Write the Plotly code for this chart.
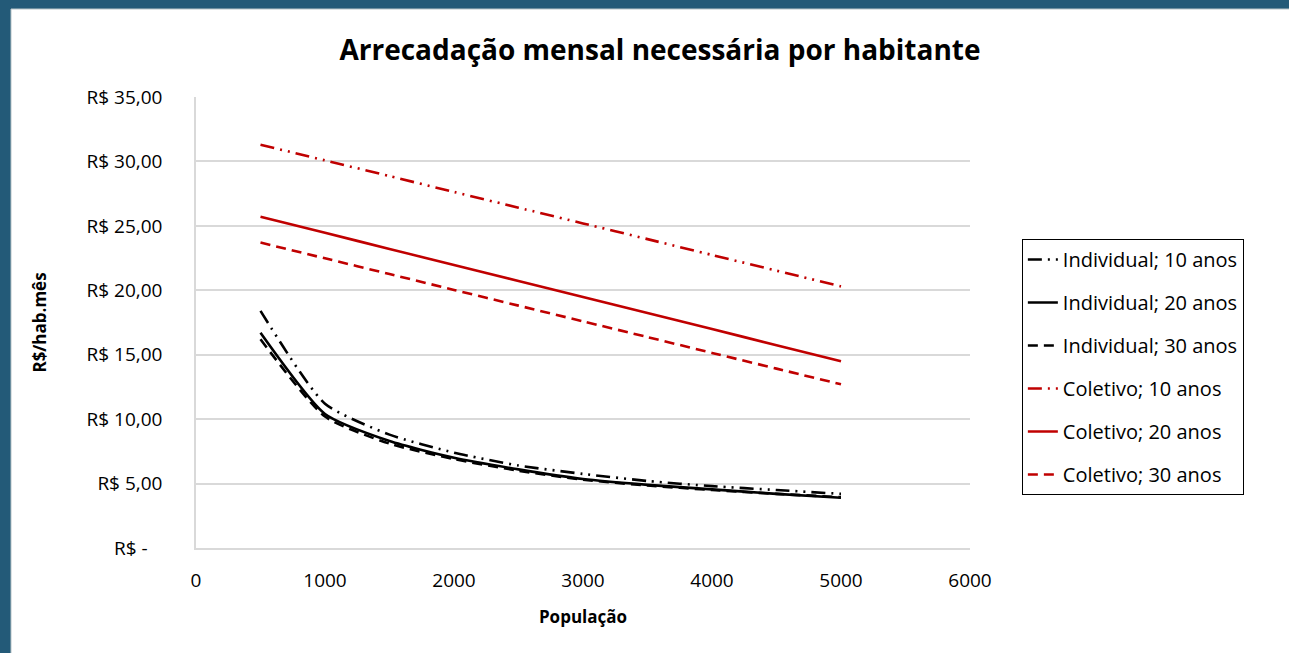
import plotly.graph_objects as go

populacao = [500, 1000, 1500, 2000, 2500, 3000, 3500, 4000, 4500, 5000]

ind_10 = [18.4, 11.2, 8.8, 7.4, 6.4, 5.75, 5.2, 4.8, 4.5, 4.2]
ind_20 = [16.7, 10.4, 8.3, 7.0, 6.1, 5.35, 4.9, 4.55, 4.2, 3.9]
ind_30 = [16.2, 10.2, 8.1, 6.9, 6.0, 5.3, 4.85, 4.5, 4.2, 3.95]
col_10 = [31.3, 30.08, 28.86, 27.63, 26.41, 25.19, 23.97, 22.74, 21.52, 20.3]
col_20 = [25.7, 24.46, 23.21, 21.97, 20.72, 19.48, 18.23, 16.99, 15.74, 14.5]
col_30 = [23.7, 22.48, 21.26, 20.03, 18.81, 17.59, 16.37, 15.14, 13.92, 12.7]

series_names = ["Individual; 10 anos", "Individual; 20 anos", "Individual; 30 anos",
                "Coletivo; 10 anos", "Coletivo; 20 anos", "Coletivo; 30 anos"]

y_tickvals = [0, 5, 10, 15, 20, 25, 30, 35]
y_ticktext = ["R$ -\u00a0\u00a0\u00a0", "R$ 5,00", "R$ 10,00", "R$ 15,00", "R$ 20,00",
              "R$ 25,00", "R$ 30,00", "R$ 35,00"]
x_tickvals = [0, 1000, 2000, 3000, 4000, 5000, 6000]

BLACK = "#000000"
RED = "#c00000"
ddot = "14px,6px,2px,6px,2px,6px"
dash = "10px,6px"

styles = [
    (ind_10, BLACK, ddot),
    (ind_20, BLACK, "solid"),
    (ind_30, BLACK, dash),
    (col_10, RED, ddot),
    (col_20, RED, "solid"),
    (col_30, RED, dash),
]

fig = go.Figure()
for i, (vals, color, d) in enumerate(styles):
    fig.add_trace(go.Scatter(
        x=populacao, y=vals, mode="lines", name=series_names[i],
        legendgroup=f"g{i}",
        line=dict(color=color, width=2.6, dash=d, shape="spline", smoothing=0.6),
    ))

FONT = "'Open Sans', Lato, sans-serif"

fig.update_layout(
    width=1289, height=653,
    margin=dict(l=196, r=319, t=97, b=105),
    paper_bgcolor="#235a78",
    plot_bgcolor="white",
    font=dict(family=FONT, size=19, color="#000000"),
    title=dict(text="<b>Arrecadação mensal necessária por habitante</b>",
               x=0.512, xanchor="center", y=0.923, yanchor="middle",
               font=dict(size=28, family=FONT, color="#000000")),
    showlegend=True,
    legend=dict(x=1.067, y=0.685, xanchor="left", yanchor="top",
                bordercolor="#000000", borderwidth=1, bgcolor="white",
                font=dict(size=20, family=FONT), tracegroupgap=14,
                itemwidth=30),
    shapes=[
        dict(type="rect", xref="paper", yref="paper",
             x0=(11 - 196) / 774, x1=2.0, y0=-1.0, y1=(548 - 9) / 451,
             fillcolor="white", line=dict(color="#b8c4c8", width=1), layer="below"),
    ],
)

fig.update_xaxes(
    range=[0, 6000], tickvals=x_tickvals, showgrid=False, zeroline=False,
    showline=True, linecolor="#d9d9d9", linewidth=1.5, ticks="",
    ticklabelstandoff=14,
    title=dict(text="<b>População</b>", font=dict(size=17, family=FONT), standoff=20),
)
fig.update_yaxes(
    range=[0, 35], tickvals=y_tickvals, ticktext=y_ticktext,
    showgrid=True, gridcolor="#d9d9d9", gridwidth=1.5, zeroline=False,
    showline=True, linecolor="#d9d9d9", linewidth=1.5, ticks="",
    ticklabelstandoff=28,
    title=dict(text="<b>R$/hab.mês</b>", font=dict(size=17, family=FONT), standoff=36),
)

fig.write_html(
    "out.html",
    config={"displayModeBar": False},
    post_script="document.body.style.margin='0';document.body.style.overflow='hidden';",
)
